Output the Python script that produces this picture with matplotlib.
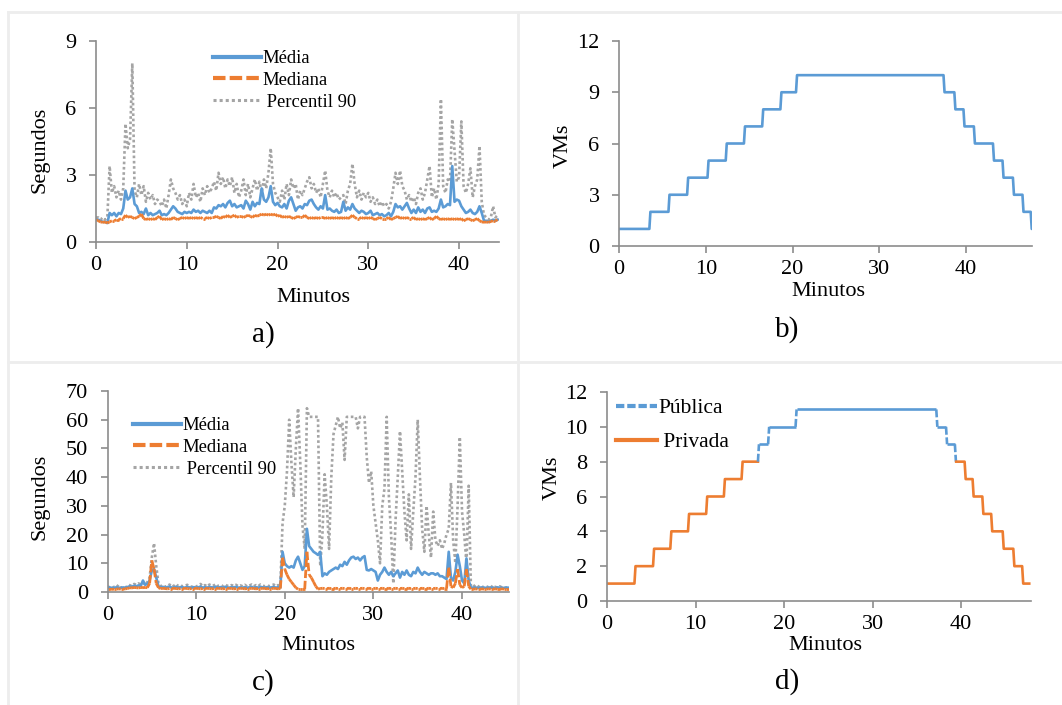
import numpy as np
import matplotlib
matplotlib.use("Agg")
import matplotlib.pyplot as plt
from matplotlib.collections import LineCollection
from matplotlib.lines import Line2D

plt.rcParams['font.family'] = ['Liberation Serif', 'DejaVu Serif']

AZUL = '#5B9BD5'
LARANJA = '#ED7D31'
CINZA = '#A5A5A5'
EIXO = '#8C8C8C'
BORDA = '#EDEDED'

# ---- a) tempos de resposta (segundos), amostras a cada 0.25 min ----
passo = 0.25
p90_a = [1.1, 1.1, 1.0, 1.1,  1.0, 1.1, 3.4, 2.2,  2.5, 2.0, 2.3, 1.9,  2.4, 5.3, 4.2, 4.6,
         8.0, 2.3, 2.0, 2.6,  2.1, 2.5, 1.8, 2.2,  1.9, 2.1, 1.7, 1.9,  1.8, 1.6, 1.9, 1.5,
         2.1, 2.8, 2.4, 2.2,  1.9, 2.1, 1.7, 1.9,  1.6, 2.2, 1.9, 2.6,  2.0, 2.2, 1.8, 2.4,
         2.1, 2.5, 2.2, 2.4,  2.7, 2.3, 3.1, 2.6,  2.9, 2.4, 2.8, 2.5,  2.9, 2.2, 2.6, 2.0,
         2.3, 2.8, 2.1, 2.6,  2.0, 2.4, 2.8, 2.3,  2.7, 2.2, 2.8, 2.4,  3.1, 4.2, 2.6, 2.2,
         2.0, 1.8, 2.3, 1.9,  2.6, 2.1, 2.8, 2.4,  2.6, 1.9, 2.3, 2.1,  2.4, 2.7, 2.9, 2.4,
         2.6, 2.2, 2.4, 2.0,  2.6, 3.2, 2.3, 2.0,  2.3, 2.0, 2.2, 1.9,  2.0, 2.1, 1.7, 2.3,
         2.6, 3.5, 2.6, 2.0,  2.3, 1.9, 2.2, 2.0,  2.2, 1.8, 2.0, 1.7,  1.9, 1.6, 1.8, 1.6,
         1.7, 1.5, 1.8, 2.4,  3.1, 2.6, 3.2, 2.5,  2.3, 1.9, 2.1, 1.8,  2.0, 1.7, 2.2, 2.4,
         1.9, 2.2, 2.8, 3.4,  2.0, 2.4, 1.9, 2.6,  6.4, 2.5, 2.2, 2.8,  2.7, 5.5, 4.1, 2.7,
         2.9, 5.4, 2.5, 2.2,  2.6, 3.3, 2.0, 2.5,  2.8, 4.3, 1.8, 1.2,  1.1, 1.0, 1.1, 1.6,
         1.1, 1.2]
media_a = [1.0, 1.0, 0.95, 0.9,  0.9, 0.85, 1.3, 1.2,  1.3, 1.15, 1.3, 1.25,  1.5, 2.3, 1.9, 2.0,
           2.4, 1.7, 1.6, 1.3,  1.35, 1.25, 1.5, 1.2,  1.3, 1.2, 1.25, 1.3,  1.4, 1.2, 1.25, 1.2,
           1.3, 1.45, 1.6, 1.5,  1.35, 1.3, 1.25, 1.35,  1.3, 1.35, 1.3, 1.45,  1.35, 1.4, 1.3, 1.4,
           1.35, 1.3, 1.4, 1.3,  1.55, 1.5, 1.65, 1.6,  1.7, 1.55, 1.75, 1.85,  1.6, 1.7, 1.55, 1.6,
           1.65, 1.5, 1.85, 1.7,  1.45, 1.8, 1.6, 1.75,  1.7, 2.4, 1.9, 1.8,  2.0, 2.5, 1.8, 1.65,
           1.75, 1.6, 1.55, 1.7,  1.5, 1.85, 2.0, 1.7,  1.4, 1.55, 1.6, 1.5,  1.7, 1.65, 1.85, 1.9,
           1.7, 1.55, 1.45, 1.6,  1.5, 2.1, 1.45, 1.5,  1.4, 1.35, 1.45, 1.3,  1.35, 1.8, 1.4, 1.55,
           1.45, 1.7, 1.5, 1.4,  1.3, 1.4, 1.35, 1.25,  1.3, 1.4, 1.2, 1.25,  1.3, 1.2, 1.25, 1.15,
           1.2, 1.3, 1.15, 1.35,  1.7, 1.55, 1.6, 1.45,  1.6, 1.75, 1.5, 1.3,  1.45, 1.3, 1.55, 1.35,
           1.45, 1.3, 1.5, 1.55,  1.35, 1.4, 1.35, 1.5,  1.9, 1.55, 1.6, 1.7,  1.65, 3.4, 1.8, 1.9,
           1.85, 1.6, 1.45, 1.3,  1.35, 1.45, 1.3, 1.25,  1.35, 1.6, 1.3, 0.95,  0.95, 0.9, 0.95, 1.0,
           0.95, 1.0]
mediana_a = [1.0, 0.95, 0.9, 0.88,  0.9, 0.85, 0.9, 0.95,  0.95, 1.0, 1.0, 1.05,  1.05, 1.2, 1.1, 1.15,
             1.1, 1.05, 1.1, 1.15,  1.25, 1.05, 1.0, 1.05,  1.0, 1.05, 1.0, 1.1,  1.15, 1.0, 1.05, 1.0,
             1.05, 1.0, 1.1, 1.05,  1.0, 1.05, 1.1, 1.05,  1.1, 1.05, 1.1, 1.05,  1.1, 1.05, 1.1, 1.05,
             1.05, 1.1, 1.05, 1.1,  1.1, 1.15, 1.1, 1.05,  1.15, 1.1, 1.2, 1.1,  1.15, 1.2, 1.1, 1.15,
             1.15, 1.1, 1.15, 1.2,  1.15, 1.1, 1.2, 1.15,  1.2, 1.25, 1.2, 1.25,  1.2, 1.25, 1.2, 1.25,
             1.15, 1.2, 1.1, 1.15,  1.1, 1.15, 1.1, 1.05,  1.1, 1.15, 1.1, 1.1,  1.2, 1.1, 1.05, 1.1,
             1.05, 1.1, 1.05, 1.1,  1.1, 1.05, 1.1, 1.05,  1.1, 1.05, 1.1, 1.05,  1.1, 1.05, 1.1, 1.05,
             1.1, 1.2, 1.1, 1.05,  1.05, 1.1, 1.05, 1.1,  1.05, 1.1, 1.05, 1.0,  1.05, 1.1, 1.05, 1.05,
             1.05, 1.1, 1.0, 1.05,  1.1, 1.15, 1.05, 1.1,  1.05, 1.1, 1.05, 1.05,  1.1, 1.0, 1.05, 1.0,
             1.05, 1.0, 1.05, 1.1,  1.0, 1.05, 1.15, 1.05,  1.0, 1.05, 1.0, 1.05,  1.0, 1.05, 1.0, 1.05,
             1.0, 1.05, 0.95, 1.0,  1.05, 1.0, 0.95, 1.0,  1.05, 0.95, 0.9, 0.88,  0.9, 0.88, 0.92, 0.95,
             0.95, 1.0]

# ---- b) VMs ao longo do tempo ----
b_trocas = [3.5, 5.7, 7.85, 10.2, 12.3, 14.4, 16.5, 18.6, 20.4,
            37.4, 38.65, 39.7, 40.9, 43.1, 44.2, 45.4, 46.5, 47.45]
b_niveis = [1, 2, 3, 4, 5, 6, 7, 8, 9, 10, 9, 8, 7, 6, 5, 4, 3, 2, 1]
b_fim = 47.6

# ---- c) tempos de resposta (segundos), amostras a cada 0.25 min ----
p90_c = [1.5, 2.0, 1.5, 1.8, 1.6, 2.5, 1.5, 1.8, 1.6, 2.0, 2.4, 2.0, 2.8, 2.5, 3.0, 2.6,
         3.2, 2.5, 3.5, 5.0, 12.0, 17.0, 9.0, 3.0,
         2.0, 2.5, 1.8, 2.0, 2.6, 1.8, 2.2, 2.8, 2.0, 2.4, 1.9, 2.2, 2.5, 2.0, 1.8, 2.2,
         1.9, 2.3, 2.8, 2.0, 2.4, 1.9, 2.6, 2.1, 2.3, 2.8, 2.0, 2.4, 2.0, 2.6, 2.2, 2.0,
         2.4, 2.1, 2.5, 2.0, 2.3, 2.0, 2.5, 1.9, 2.2, 2.6, 2.0, 2.4, 2.0, 2.6, 2.2, 2.0,
         2.4, 2.0, 2.3, 2.6, 2.0, 2.4, 2.1,
         24, 30, 42, 60, 45, 33, 50, 64, 45, 23, 15, 64, 61, 61, 61, 61, 61,
         9, 20, 41, 30, 15, 40, 55, 58, 61, 57, 59, 46, 61, 61, 61, 61,
         61, 57, 61, 61, 61, 47, 38, 42, 30, 24, 18, 10, 30, 36, 61, 33,
         20, 3, 25, 40, 56, 42, 28, 18, 34, 15, 28, 40, 60, 40, 22, 14,
         30, 20, 12, 28, 18, 16, 18, 15, 17, 20, 22, 38, 18, 10, 30, 54,
         28, 20, 10, 37, 2.0,
         2.5, 1.8, 2.2, 1.6, 2.0, 1.5, 2.0, 1.6, 2.2, 1.4, 1.8, 1.5, 2.0, 1.6, 1.5, 1.6, 1.5]
media_c = [1.5, 1.6, 1.4, 1.5, 1.6, 1.5, 1.4, 1.6, 1.5, 1.7, 2.0, 1.8, 2.2, 2.0, 2.3, 2.1,
           4.0, 2.5, 2.8, 4.0, 7.5, 8.0, 5.0, 2.0,
           1.6, 1.8, 1.5, 1.7, 1.9, 1.5, 1.6, 1.8, 1.5, 1.7, 1.6, 1.5, 1.8, 1.6, 1.5, 1.7,
           1.5, 1.6, 1.9, 1.5, 1.7, 1.5, 1.8, 1.6, 1.6, 1.8, 1.5, 1.7, 1.5, 1.8, 1.6, 1.5,
           1.7, 1.6, 1.8, 1.5, 1.6, 1.5, 1.7, 1.5, 1.6, 1.8, 1.5, 1.7, 1.5, 1.8, 1.6, 1.5,
           1.7, 1.5, 1.6, 1.8, 1.5, 1.7, 1.6,
           14, 10, 9, 8.5, 9, 8.5, 11, 12.3, 10, 7.7, 9, 22, 16, 15, 14, 13.5, 12.9,
           14, 5.5, 6.5, 6, 7, 7.5, 8, 8.5, 8, 9.5, 9, 10.5, 9.5, 11, 12, 12.3,
           11.5, 12, 11, 12, 12.5, 7.7, 7.5, 8, 7.5, 7, 4, 6, 7, 8.5, 7, 6,
           7, 5.5, 6.5, 7.5, 5, 7, 6, 7.5, 6, 5.5, 7, 6.5, 8.5, 7, 6, 7,
           6.5, 6, 6.5, 6.5, 6, 6.5, 5.5, 5.5, 5, 4.5, 14, 5, 4, 7, 13, 9,
           4, 3, 11.7, 4, 1.5,
           1.5, 1.6, 1.4, 1.5, 1.6, 1.5, 1.4, 1.6, 1.5, 1.5, 1.4, 1.6, 1.5, 1.5, 1.4, 1.5, 1.5]
mediana_c = [1.0, 1.0, 0.9, 1.0, 1.0, 1.1, 1.0, 1.0, 1.1, 1.2, 1.5, 1.4, 1.6, 1.5, 1.4, 1.6,
             1.5, 1.6, 1.5, 3.0, 11.0, 8.0, 3.0, 1.5,
             1.2, 1.3, 1.2, 1.1, 1.2, 1.2, 1.3, 1.2, 1.1, 1.2, 1.2, 1.3, 1.2, 1.1, 1.2, 1.2,
             1.3, 1.2, 1.1, 1.2, 1.2, 1.3, 1.2, 1.1, 1.2, 1.2, 1.3, 1.2, 1.1, 1.2, 1.2, 1.3,
             1.2, 1.1, 1.2, 1.2, 1.3, 1.2, 1.1, 1.2, 1.2, 1.3, 1.2, 1.1, 1.2, 1.2, 1.3, 1.2,
             1.1, 1.2, 1.2, 1.3, 1.2, 1.1, 1.2,
             12, 8, 6, 4.5, 3.5, 2.5, 1.5, 1.0, 1.0, 1.0, 1.0, 14, 6, 5, 3.5, 2, 1.0,
             1.2, 1.3, 1.2, 1.2, 1.3, 1.2, 1.2, 1.3, 1.2, 1.2, 1.3, 1.2, 1.2, 1.3, 1.2, 1.2,
             1.3, 1.2, 1.2, 1.3, 1.2, 1.2, 1.3, 1.2, 1.2, 1.3, 1.2, 1.2, 1.3, 1.2, 1.2, 1.3,
             1.2, 1.2, 1.3, 1.2, 1.2, 1.3, 1.2, 1.2, 1.3, 1.2, 1.2, 1.3, 1.2, 1.2, 1.3, 1.2,
             1.2, 1.3, 1.2, 1.2, 1.3, 1.2, 1.2, 1.3, 1.2, 1.2,
             8.5, 2, 1.5, 3, 8, 2.5, 1.5, 2, 8, 2, 1.0,
             1.0, 1.1, 1.0, 1.0, 1.1, 1.0, 1.0, 1.1, 1.0, 1.0, 1.1, 1.0, 1.0, 1.1, 1.0, 1.0, 1.0]

# ---- d) VMs na nuvem privada e na publica ----
d_priv_sobe_trocas = [3.1, 5.2, 7.15, 9.15, 11.2, 13.2, 15.2]
d_priv_sobe_niveis = [1, 2, 3, 4, 5, 6, 7, 8]
d_priv_sobe_fim = 17.05
d_pub_inicio = 17.05
d_pub_trocas = [17.05, 18.2, 21.3, 37.2, 38.3, 39.3]
d_pub_niveis = [8, 9, 10, 11, 10, 9, 8]
d_priv_desce_inicio = 39.45
d_priv_desce_trocas = [40.4, 41.3, 42.4, 43.4, 44.7, 45.9, 46.9]
d_priv_desce_niveis = [8, 7, 6, 5, 4, 3, 2, 1]
d_priv_desce_fim = 47.7

W, H = 1062, 705
fig = plt.figure(figsize=(W / 100, H / 100), dpi=100)


def eixos(l, t, r, b):
    return fig.add_axes([l / W, 1 - b / H, (r - l) / W, (b - t) / H])


def fx(x, y):
    return x / W, 1 - y / H


def degraus(inicio, trocas, niveis, fim, largura=0.12):
    # escada com transicoes levemente inclinadas
    xs, ys = [inicio], [niveis[0]]
    for i, tc in enumerate(trocas):
        xs += [tc, tc + largura]
        ys += [niveis[i], niveis[i + 1]]
    xs.append(fim)
    ys.append(niveis[-1])
    return np.array(xs), np.array(ys)


def segmentos(x, y):
    pts = np.column_stack([x, y])
    return np.stack([pts[:-1], pts[1:]], axis=1)


def tracejada_excel(ax, x, y, cor, lw=2.0, so_transicoes=False):
    segs = segmentos(x, y)
    if so_transicoes:
        plano = segs[segs[:, 0, 1] == segs[:, 1, 1]]
        segs = segs[segs[:, 0, 1] != segs[:, 1, 1]]
        ax.add_collection(LineCollection(plano, colors=cor, linewidths=lw, capstyle='butt'))
    ax.add_collection(LineCollection(segs, colors=cor, linewidths=lw,
                                     linestyles=[(0, (3, 1))], capstyle='butt'))


def estilo(ax, xmax, ymax, ystep):
    ax.set_xlim(0, xmax)
    ax.set_ylim(0, ymax)
    ax.set_xticks(np.arange(0, 41, 10))
    ax.set_yticks(np.arange(0, ymax + 0.01, ystep))
    for s in ('top', 'right'):
        ax.spines[s].set_visible(False)
    for s in ('left', 'bottom'):
        ax.spines[s].set_color(EIXO)
        ax.spines[s].set_linewidth(1.2)
    ax.tick_params(direction='out', length=5, width=1.2, color=EIXO,
                   labelcolor='black', labelsize=16)
    ax.tick_params(axis='y', pad=9)
    ax.tick_params(axis='x', pad=5)
    ax.patch.set_alpha(0)


# moldura clara das celulas
for xs, ys in [([8, W], [12, 12]), ([8, 8], [12, H]), ([518, 518], [12, H]), ([8, W], [362, 362])]:
    fig.add_artist(Line2D([x / W for x in xs], [1 - y / H for y in ys],
                          transform=fig.transFigure, color=BORDA, lw=2))

leg_a = [Line2D([], [], color=AZUL, lw=3),
         Line2D([], [], color=LARANJA, lw=3, linestyle=(0, (3, 1))),
         Line2D([], [], color=CINZA, lw=2.2, linestyle=(0, (1, 1)))]
rot_a = ['Média', 'Mediana', ' Percentil 90']

# a)
ax = eixos(96, 41, 499, 242)
t_a = np.arange(len(p90_a)) * passo
ax.plot(t_a, p90_a, color=CINZA, lw=1.9, linestyle=(0, (1, 1)))
ax.plot(t_a, media_a, color=AZUL, lw=1.9)
tracejada_excel(ax, t_a, mediana_a, LARANJA)
estilo(ax, 44.4, 9, 3)
ax.legend(leg_a, rot_a, loc='upper left', bbox_to_anchor=fx(213, 50), bbox_transform=fig.transFigure,
          frameon=False, borderpad=0, borderaxespad=0, handlelength=2.6, handletextpad=0.05,
          labelspacing=0.26, fontsize=13.4)
fig.text(*fx(40, 150), 'Segundos', rotation=90, ha='center', va='center', fontsize=16)
fig.text(*fx(313, 297), 'Minutos', ha='center', va='center', fontsize=16)
fig.text(*fx(263, 335), 'a)', ha='center', va='center', fontsize=21)

# b)
ax = eixos(619, 41, 1032, 246)
xb, yb = degraus(0, b_trocas, b_niveis, b_fim)
ax.plot(xb, yb, color=AZUL, lw=1.9)
estilo(ax, 47.6, 12, 3)
fig.text(*fx(563, 146), 'VMs', rotation=90, ha='center', va='center', fontsize=16)
fig.text(*fx(828, 292), 'Minutos', ha='center', va='center', fontsize=16)
fig.text(*fx(787, 330), 'b)', ha='center', va='center', fontsize=21)

# c)
ax = eixos(107.5, 391, 509, 592)
t_c = np.arange(len(p90_c)) * passo
ax.plot(t_c, p90_c, color=CINZA, lw=1.9, linestyle=(0, (1, 1)))
ax.plot(t_c, media_c, color=AZUL, lw=1.9)
tracejada_excel(ax, t_c, mediana_c, LARANJA)
estilo(ax, 45.3, 70, 10)
ax.legend(leg_a, rot_a, loc='upper left', bbox_to_anchor=fx(133, 417), bbox_transform=fig.transFigure,
          frameon=False, borderpad=0, borderaxespad=0, handlelength=2.6, handletextpad=0.05,
          labelspacing=0.26, fontsize=13.4)
fig.text(*fx(40, 497), 'Segundos', rotation=90, ha='center', va='center', fontsize=16)
fig.text(*fx(318, 645), 'Minutos', ha='center', va='center', fontsize=16)
fig.text(*fx(263, 683), 'c)', ha='center', va='center', fontsize=21)

# d)
ax = eixos(607, 392, 1031, 601)
x1, y1 = degraus(0, d_priv_sobe_trocas, d_priv_sobe_niveis, d_priv_sobe_fim)
ax.plot(x1, y1, color=LARANJA, lw=1.9)
xp, yp = degraus(d_pub_inicio, d_pub_trocas, d_pub_niveis, d_priv_desce_inicio)
tracejada_excel(ax, xp, yp, AZUL, lw=1.9, so_transicoes=True)
x2, y2 = degraus(d_priv_desce_inicio, d_priv_desce_trocas, d_priv_desce_niveis, d_priv_desce_fim)
ax.plot(x2, y2, color=LARANJA, lw=1.9)
estilo(ax, 47.9, 12, 2)
leg_d = [Line2D([], [], color=AZUL, lw=3, linestyle=(0, (2, 0.7))),
         Line2D([], [], color=LARANJA, lw=3)]
ax.legend(leg_d, ['Pública', ' Privada'], loc='upper left', bbox_to_anchor=fx(616, 398),
          bbox_transform=fig.transFigure, frameon=False, borderpad=0, borderaxespad=0,
          handlelength=1.9, handletextpad=0.05, labelspacing=0.65, fontsize=15.5)
fig.text(*fx(552, 478), 'VMs', rotation=90, ha='center', va='center', fontsize=16)
fig.text(*fx(825, 645), 'Minutos', ha='center', va='center', fontsize=16)
fig.text(*fx(787, 682), 'd)', ha='center', va='center', fontsize=21)

fig.savefig('out.png', dpi=100)
